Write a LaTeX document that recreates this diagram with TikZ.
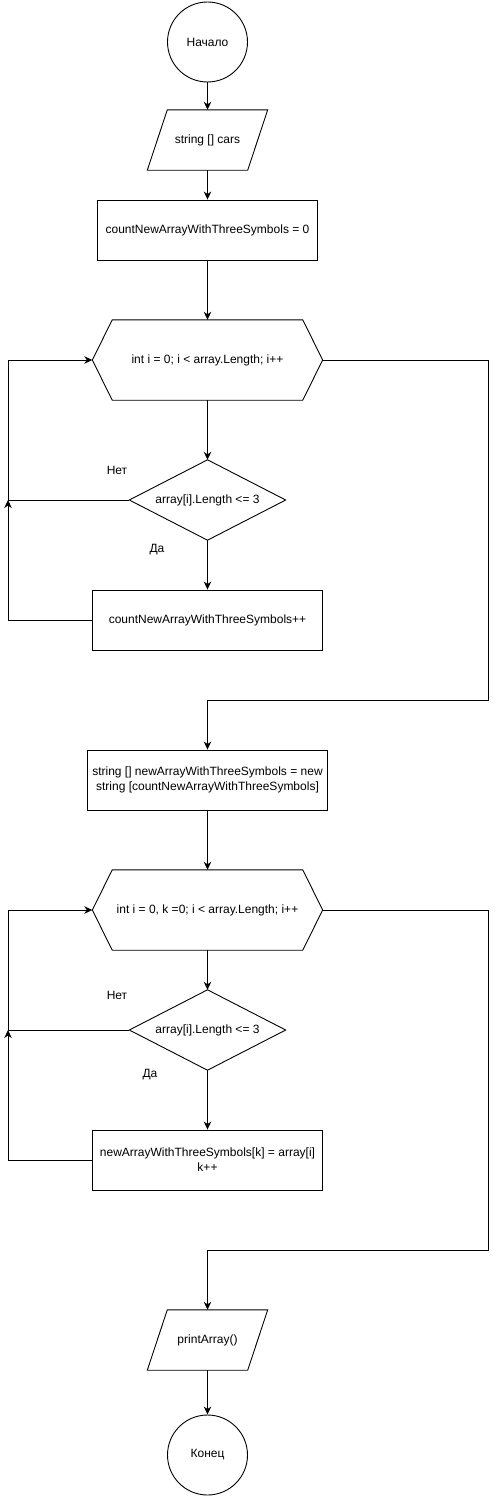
\documentclass[tikz,border=0pt]{standalone}
\usepackage{fontspec}
\setmainfont{Liberation Sans}
\usetikzlibrary{arrows.meta}
\begin{document}
\begin{tikzpicture}[x=1pt,y=-1pt,
  every node/.style={font=\fontsize{12}{15}\selectfont, text=black},
  ln/.style={line width=0.9pt, draw=black},
  plain/.style={rectangle, inner sep=0pt, align=center},
  box/.style={rectangle, draw=black, line width=0.9pt, minimum width=#1, minimum height=60pt, inner sep=0pt, align=center},
  term/.style={circle, draw=black, line width=0.9pt, minimum size=80pt, inner sep=0pt},
  arr/.style={ln, -{Stealth[length=8pt,width=7.5pt,inset=2.5pt]}}]
\useasboundingbox (0,0) rectangle (496,1496);

% Start
\node[term] (start) at (207.5,42) {Начало};

% Input parallelogram
\node[plain, minimum width=120pt, minimum height=60pt] (in) at (207.5,140) {string [] cars};
\draw[ln] ([xshift=20pt]in.north west) -- (in.north east) -- ([xshift=-20pt]in.south east) -- (in.south west) -- cycle;

% Init
\node[box=220pt] (init) at (207.5,230) {countNewArrayWithThreeSymbols = 0};

% Loop 1
\node[plain, minimum width=230pt, minimum height=80pt] (h1) at (207.5,360) {int i = 0; i < array.Length; i++};
\draw[ln] (h1.west) -- ([xshift=20pt]h1.north west) -- ([xshift=-20pt]h1.north east) -- (h1.east) -- ([xshift=-20pt]h1.south east) -- ([xshift=20pt]h1.south west) -- cycle;

\node[plain, minimum width=156pt, minimum height=80pt] (d1) at (207.5,500) {array[i].Length <= 3};
\draw[ln] (d1.north) -- (d1.east) -- (d1.south) -- (d1.west) -- cycle;

\node[box=230pt] (b1) at (207.5,620) {countNewArrayWithThreeSymbols++};

\node (no1) at (117,470) {Нет};
\node (yes1) at (157,550) {Да};

% Array creation
\node[box=240pt] (b3) at (207.5,780) {string [] newArrayWithThreeSymbols = new\\string [countNewArrayWithThreeSymbols]};

% Loop 2
\node[plain, minimum width=230pt, minimum height=80pt] (h2) at (207.5,910) {int i = 0, k =0; i < array.Length; i++};
\draw[ln] (h2.west) -- ([xshift=20pt]h2.north west) -- ([xshift=-20pt]h2.north east) -- (h2.east) -- ([xshift=-20pt]h2.south east) -- ([xshift=20pt]h2.south west) -- cycle;

\node[plain, minimum width=156pt, minimum height=80pt] (d2) at (207.5,1030) {array[i].Length <= 3};
\draw[ln] (d2.north) -- (d2.east) -- (d2.south) -- (d2.west) -- cycle;

\node[box=230pt] (b4) at (207.5,1160) {newArrayWithThreeSymbols[k] = array[i]\\k++};

\node (no2) at (117,995) {Нет};
\node (yes2) at (150,1075) {Да};

% Output
\node[plain, minimum width=120pt, minimum height=60pt] (out) at (207.5,1340) {printArray()};
\draw[ln] ([xshift=20pt]out.north west) -- (out.north east) -- ([xshift=-20pt]out.south east) -- (out.south west) -- cycle;

% End
\node[term] (end) at (207.5,1455) {Конец};

% Coordinates
\coordinate (j1) at (8,500);
\coordinate (j2) at (8,1030);
\coordinate (r1) at (488,700);
\coordinate (r2) at (488,1250);

% Connectors
\draw[arr] (start.south) -- (in.north);
\draw[arr] (in.south) -- (init.north);
\draw[arr] (init.south) -- (h1.north);
\draw[arr] (h1.south) -- (d1.north);
\draw[arr] (d1.south) -- (b1.north);
\draw[arr] (b1.west) -- (b1.west -| j1) -- (j1);
\draw[arr] (d1.west) -- (j1) |- (h1.west);
\draw[arr] (h1.east) -| (r1) -| (b3.north);

\draw[arr] (b3.south) -- (h2.north);
\draw[arr] (h2.south) -- (d2.north);
\draw[arr] (d2.south) -- (b4.north);
\draw[arr] (b4.west) -- (b4.west -| j2) -- (j2);
\draw[arr] (d2.west) -- (j2) |- (h2.west);
\draw[arr] (h2.east) -| (r2) -| (out.north);
\draw[arr] (out.south) -- (end.north);
\end{tikzpicture}
\end{document}
